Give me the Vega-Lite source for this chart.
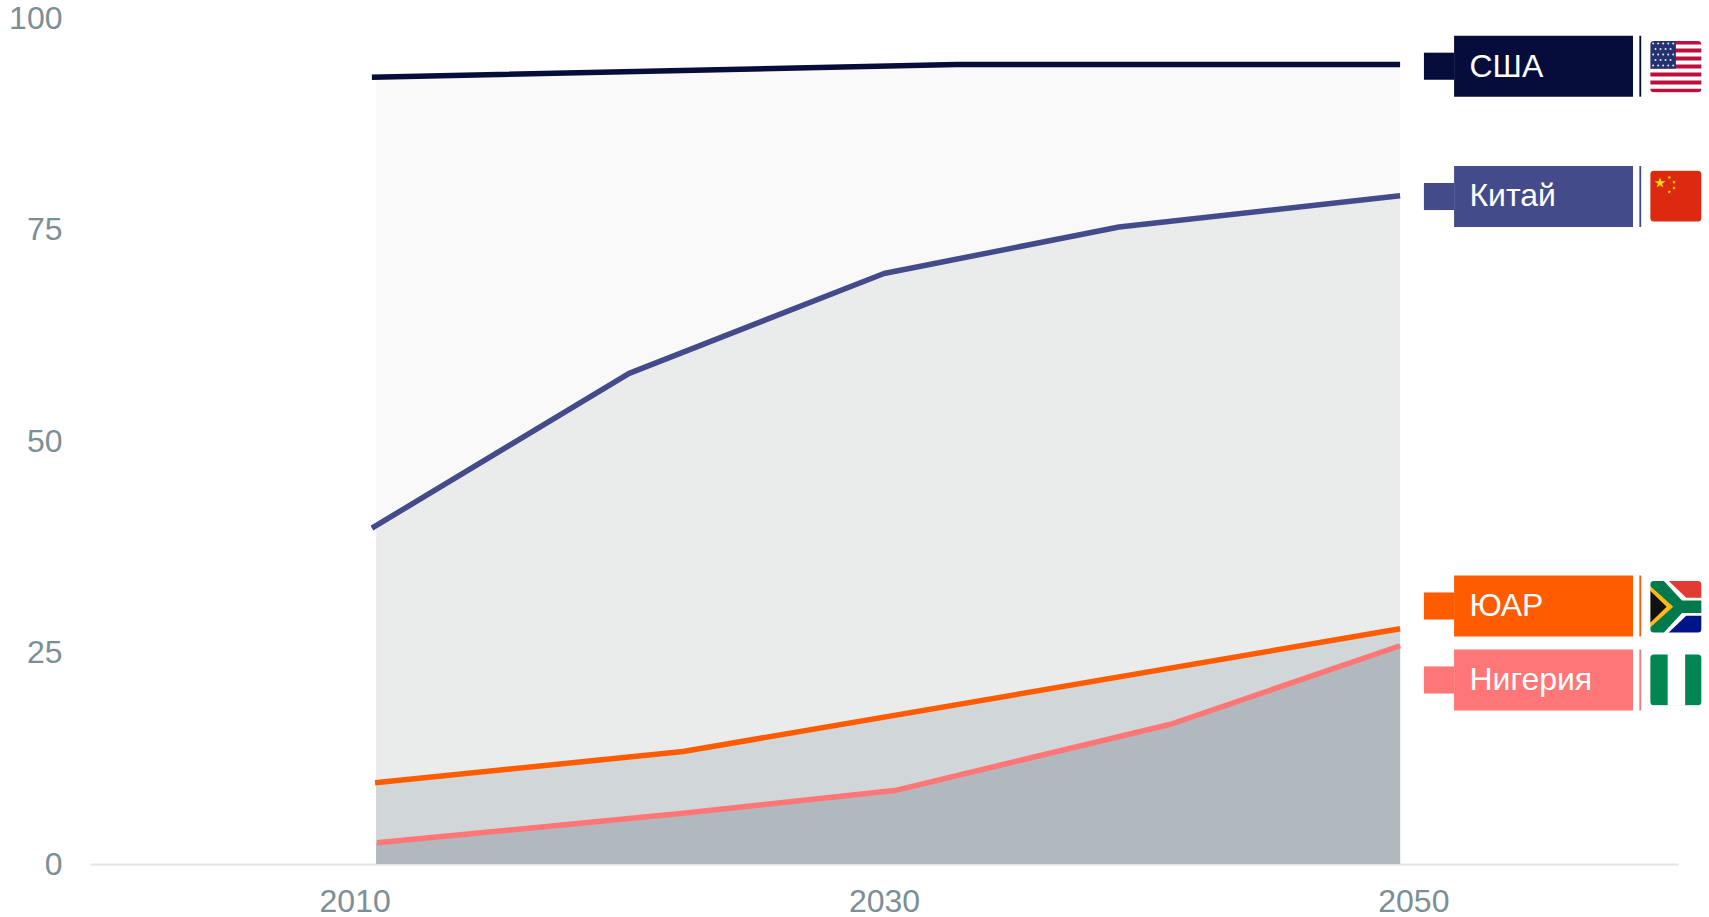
{"$schema":"https://vega.github.io/schema/vega-lite/v6.json","width":1588,"height":846,"autosize":"none","padding":{"left":90,"top":18,"right":31,"bottom":53},"background":"#ffffff","config":{"view":{"stroke":null}},
"datasets":{
"areas":[
{"key":"aUS","year":2010.81,"value":93.1},{"key":"aUS","year":2032.75,"value":94.5},{"key":"aUS","year":2049.5,"value":94.5},
{"key":"aCN","year":2010.81,"value":39.9},{"key":"aCN","year":2020.37,"value":58.0},{"key":"aCN","year":2030.0,"value":69.8},{"key":"aCN","year":2038.88,"value":75.3},{"key":"aCN","year":2049.5,"value":79.0},
{"key":"aZA","year":2010.81,"value":9.6},{"key":"aZA","year":2022.41,"value":13.3},{"key":"aZA","year":2049.5,"value":27.8},
{"key":"aNG","year":2010.81,"value":2.5},{"key":"aNG","year":2022.41,"value":6.0},{"key":"aNG","year":2030.4,"value":8.68},{"key":"aNG","year":2040.83,"value":16.52},{"key":"aNG","year":2049.5,"value":25.8}],
"lines":[
{"key":"США","year":2010.65,"value":93.0},{"key":"США","year":2032.75,"value":94.5},{"key":"США","year":2049.5,"value":94.5},
{"key":"Китай","year":2010.65,"value":39.7},{"key":"Китай","year":2020.37,"value":58.0},{"key":"Китай","year":2030.0,"value":69.8},{"key":"Китай","year":2038.88,"value":75.3},{"key":"Китай","year":2049.5,"value":79.0},
{"key":"ЮАР","year":2010.77,"value":9.6},{"key":"ЮАР","year":2022.41,"value":13.3},{"key":"ЮАР","year":2049.5,"value":27.8},
{"key":"Нигерия","year":2010.84,"value":2.5},{"key":"Нигерия","year":2022.41,"value":6.0},{"key":"Нигерия","year":2030.4,"value":8.68},{"key":"Нигерия","year":2040.83,"value":16.52},{"key":"Нигерия","year":2049.5,"value":25.8}],
"rects":[
{"key":"США","year":2050.4,"year2":2051.54,"value":95.9,"value2":92.7},{"key":"США","year":2051.54,"year2":2058.3,"value":97.9,"value2":90.7},{"key":"США","year":2058.54,"year2":2058.61,"value":97.9,"value2":90.7},
{"key":"Китай","year":2050.4,"year2":2051.54,"value":80.5,"value2":77.3},{"key":"Китай","year":2051.54,"year2":2058.3,"value":82.5,"value2":75.3},{"key":"Китай","year":2058.54,"year2":2058.61,"value":82.5,"value2":75.3},
{"key":"ЮАР","year":2050.4,"year2":2051.54,"value":32.1,"value2":28.9},{"key":"ЮАР","year":2051.54,"year2":2058.3,"value":34.1,"value2":26.9},{"key":"ЮАР","year":2058.54,"year2":2058.61,"value":34.1,"value2":26.9},
{"key":"Нигерия","year":2050.4,"year2":2051.54,"value":23.35,"value2":20.15},{"key":"Нигерия","year":2051.54,"year2":2058.3,"value":25.35,"value2":18.15},{"key":"Нигерия","year":2058.54,"year2":2058.61,"value":25.35,"value2":18.15},
{"key":"white","year":2058.94,"year2":2060.9,"value":97.35,"value2":91.17},
{"key":"usRed","year":2058.94,"year2":2060.9,"value":97.35,"value2":96.875},{"key":"usRed","year":2058.94,"year2":2060.9,"value":96.4,"value2":95.925},{"key":"usRed","year":2058.94,"year2":2060.9,"value":95.45,"value2":94.975},{"key":"usRed","year":2058.94,"year2":2060.9,"value":94.5,"value2":94.025},{"key":"usRed","year":2058.94,"year2":2060.9,"value":93.55,"value2":93.075},{"key":"usRed","year":2058.94,"year2":2060.9,"value":92.6,"value2":92.125},{"key":"usRed","year":2058.94,"year2":2060.9,"value":91.65,"value2":91.17},
{"key":"usBlue","year":2058.94,"year2":2059.92,"value":97.35,"value2":94.01},
{"key":"cnRed","year":2058.94,"year2":2060.9,"value":81.99,"value2":75.89},
{"key":"saGreen","year":2058.94,"year2":2060.9,"value":33.52,"value2":27.3},
{"key":"ngGreen","year":2058.94,"year2":2060.9,"value":24.82,"value2":18.71},
{"key":"white","year":2059.61,"year2":2060.27,"value":24.82,"value2":18.71}],
"poly":[
{"piece":"w1","key":"white","year":2059.45,"value":33.52,"value2":33.52},{"piece":"w1","key":"white","year":2060.15,"value":33.52,"value2":31.15},{"piece":"w1","key":"white","year":2060.9,"value":33.52,"value2":31.15},
{"piece":"w2","key":"white","year":2059.45,"value":27.3,"value2":27.3},{"piece":"w2","key":"white","year":2060.15,"value":29.67,"value2":27.3},{"piece":"w2","key":"white","year":2060.9,"value":29.67,"value2":27.3},
{"piece":"r","key":"saRed","year":2059.63,"value":33.52,"value2":33.52},{"piece":"r","key":"saRed","year":2060.31,"value":33.52,"value2":31.47},{"piece":"r","key":"saRed","year":2060.9,"value":33.52,"value2":31.47},
{"piece":"b","key":"saBlue","year":2059.63,"value":27.3,"value2":27.3},{"piece":"b","key":"saBlue","year":2060.31,"value":29.35,"value2":27.3},{"piece":"b","key":"saBlue","year":2060.9,"value":29.35,"value2":27.3},
{"piece":"g","key":"saGold","year":2058.94,"value":32.9,"value2":27.92},{"piece":"g","key":"saGold","year":2059.82,"value":30.41,"value2":30.41},
{"piece":"k","key":"saBlack","year":2058.94,"value":32.34,"value2":28.48},{"piece":"k","key":"saBlack","year":2059.57,"value":30.41,"value2":30.41}],
"dots":[
{"key":"white","year":2059.06,"value":97.0},{"key":"white","year":2059.25,"value":97.0},{"key":"white","year":2059.44,"value":97.0},{"key":"white","year":2059.63,"value":97.0},{"key":"white","year":2059.82,"value":97.0},
{"key":"white","year":2059.15,"value":96.35},{"key":"white","year":2059.34,"value":96.35},{"key":"white","year":2059.53,"value":96.35},{"key":"white","year":2059.72,"value":96.35},
{"key":"white","year":2059.06,"value":95.7},{"key":"white","year":2059.25,"value":95.7},{"key":"white","year":2059.44,"value":95.7},{"key":"white","year":2059.63,"value":95.7},{"key":"white","year":2059.82,"value":95.7},
{"key":"white","year":2059.15,"value":95.05},{"key":"white","year":2059.34,"value":95.05},{"key":"white","year":2059.53,"value":95.05},{"key":"white","year":2059.72,"value":95.05},
{"key":"white","year":2059.06,"value":94.4},{"key":"white","year":2059.25,"value":94.4},{"key":"white","year":2059.44,"value":94.4},{"key":"white","year":2059.63,"value":94.4},{"key":"white","year":2059.82,"value":94.4}],
"masks":[
{"year":2058.9,"year2":2060.94,"value":97.47,"value2":91.05},
{"year":2058.9,"year2":2060.94,"value":82.11,"value2":75.77},
{"year":2058.9,"year2":2060.94,"value":33.64,"value2":27.18},
{"year":2058.9,"year2":2060.94,"value":24.94,"value2":18.59}],
"labels":[
{"label":"США","year":2052.12,"value":94.25},{"label":"Китай","year":2052.12,"value":79.0},{"label":"ЮАР","year":2052.12,"value":30.5},{"label":"Нигерия","year":2052.12,"value":21.75}]
},
"encoding":{
"x":{"field":"year","type":"quantitative","scale":{"domain":[2000,2060],"nice":false,"zero":false},"axis":{"values":[2010,2030,2050],"format":"d","title":null,"grid":false,"ticks":false,"labelFontSize":32,"labelFont":"Liberation Sans","labelColor":"#7c8e96","labelPadding":22,"domainColor":"#e1e5e8","domainWidth":2,"labelFlush":false}},
"y":{"field":"value","type":"quantitative","stack":null,"scale":{"domain":[0,100],"nice":false},"axis":{"values":[0,25,50,75,100],"title":null,"grid":false,"ticks":false,"domain":false,"labelFontSize":32,"labelFont":"Liberation Sans","labelColor":"#7c8e96","labelPadding":28}},
"color":{"field":"key","type":"nominal","legend":null,"scale":{"domain":["aUS","aCN","aZA","aNG","США","Китай","ЮАР","Нигерия","white","usRed","usBlue","cnRed","saGreen","saRed","saBlue","saGold","saBlack","ngGreen","cnYellow"],"range":["#f9f9f9","#eaecec","#d1d6d8","#b1b8be","#070d3a","#444b8a","#ff5c00","#ff7676","#ffffff","#bf0d3e","#24336f","#dc2910","#007a4d","#e03c31","#001489","#ffb81c","#111111","#008751","#ffde00"]}}
},
"layer":[
{"data":{"name":"areas"},"mark":{"type":"area","orient":"vertical"},"encoding":{"y2":{"datum":0}}},
{"data":{"name":"lines"},"mark":{"type":"line","strokeWidth":5.5,"strokeCap":"butt","strokeJoin":"round"}},
{"data":{"name":"rects"},"mark":{"type":"rect"},"encoding":{"x2":{"field":"year2"},"y2":{"field":"value2"}}},
{"data":{"name":"poly"},"mark":{"type":"area","orient":"vertical"},"encoding":{"y2":{"field":"value2"},"detail":{"field":"piece"}}},
{"data":{"name":"dots"},"mark":{"type":"point","filled":true,"size":4,"opacity":0.9,"shape":"circle"}},
{"data":{"values":[
{"key":"cnYellow","year":2059.32,"value":80.5}]},"mark":{"type":"point","filled":true,"opacity":1,"size":130,"shape":"M0,-1L0.22,-0.31L0.95,-0.31L0.36,0.12L0.59,0.81L0,0.38L-0.59,0.81L-0.36,0.12L-0.95,-0.31L-0.22,-0.31Z"}},
{"data":{"values":[
{"key":"cnYellow","year":2059.67,"value":81.16},{"key":"cnYellow","year":2059.85,"value":80.6},{"key":"cnYellow","year":2059.85,"value":79.9},{"key":"cnYellow","year":2059.67,"value":79.43}]},"mark":{"type":"point","filled":true,"opacity":1,"size":18,"shape":"M0,-1L0.22,-0.31L0.95,-0.31L0.36,0.12L0.59,0.81L0,0.38L-0.59,0.81L-0.36,0.12L-0.95,-0.31L-0.22,-0.31Z"}},
{"data":{"name":"masks"},"mark":{"type":"rect","fill":"transparent","stroke":"#ffffff","strokeWidth":3,"cornerRadius":5},"encoding":{"x2":{"field":"year2"},"y2":{"field":"value2"},"color":null}},
{"data":{"name":"labels"},"mark":{"type":"text","align":"left","baseline":"middle","font":"Liberation Sans","fontSize":32,"fill":"#ffffff"},"encoding":{"text":{"field":"label"},"color":null}}
]}
